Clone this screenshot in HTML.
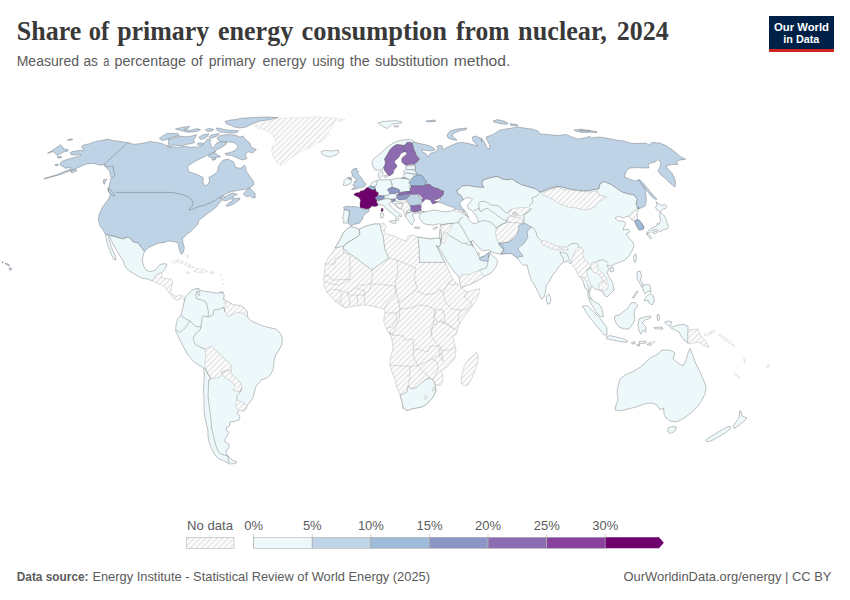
<!DOCTYPE html>
<html lang="en">
<head>
<meta charset="utf-8">
<title>Share of primary energy consumption from nuclear, 2024</title>
<style>
html,body{margin:0;padding:0;background:#fff;}
body{width:850px;height:600px;overflow:hidden;position:relative;font-family:"Liberation Sans",sans-serif;}
#chart{position:absolute;left:0;top:0;width:850px;height:600px;display:block;}
.title{font-family:"Liberation Serif",serif;font-weight:bold;font-size:27px;fill:#393939;}
.sub{font-family:"Liberation Sans",sans-serif;font-size:14px;fill:#5b5b5b;}
.lg{font-family:"Liberation Sans",sans-serif;font-size:13px;fill:#5b5b5b;}
.ft{font-family:"Liberation Sans",sans-serif;font-size:13px;fill:#5b5b5b;}
.logo{font-family:"Liberation Sans",sans-serif;font-size:11px;font-weight:bold;fill:#fff;}
</style>
</head>
<body>
<svg id="chart" width="850" height="600" viewBox="0 0 850 600">
<defs>
<pattern id="hatch" patternUnits="userSpaceOnUse" width="4" height="4" patternTransform="rotate(45)">
<rect width="4" height="4" fill="#fff"/>
<line x1="2" y1="-1" x2="2" y2="5" stroke="#e3e3e3" stroke-width="1.5"/>
</pattern>
</defs>
<rect width="850" height="600" fill="#fff"/>
<!-- header -->
<g class="title">
<text x="16.8" y="39.6" textLength="64.4" lengthAdjust="spacingAndGlyphs">Share</text>
<text x="88.8" y="39.6" textLength="20.4" lengthAdjust="spacingAndGlyphs">of</text>
<text x="117.2" y="39.6" textLength="92.0" lengthAdjust="spacingAndGlyphs">primary</text>
<text x="218.0" y="39.6" textLength="75.2" lengthAdjust="spacingAndGlyphs">energy</text>
<text x="301.5" y="39.6" textLength="145.5" lengthAdjust="spacingAndGlyphs">consumption</text>
<text x="456.1" y="39.6" textLength="53.3" lengthAdjust="spacingAndGlyphs">from</text>
<text x="518.1" y="39.6" textLength="88.6" lengthAdjust="spacingAndGlyphs">nuclear,</text>
<text x="616.8" y="39.6" textLength="51.8" lengthAdjust="spacingAndGlyphs">2024</text>
</g>
<g class="sub">
<text x="16.7" y="65.6" textLength="62.4" lengthAdjust="spacingAndGlyphs">Measured</text>
<text x="83.4" y="65.6" textLength="14.4" lengthAdjust="spacingAndGlyphs">as</text>
<text x="103.3" y="65.6" textLength="6.1" lengthAdjust="spacingAndGlyphs">a</text>
<text x="114.6" y="65.6" textLength="71.3" lengthAdjust="spacingAndGlyphs">percentage</text>
<text x="191.1" y="65.6" textLength="11.6" lengthAdjust="spacingAndGlyphs">of</text>
<text x="208.8" y="65.6" textLength="46.8" lengthAdjust="spacingAndGlyphs">primary</text>
<text x="262.6" y="65.6" textLength="43.8" lengthAdjust="spacingAndGlyphs">energy</text>
<text x="312.2" y="65.6" textLength="32.4" lengthAdjust="spacingAndGlyphs">using</text>
<text x="349.8" y="65.6" textLength="19.9" lengthAdjust="spacingAndGlyphs">the</text>
<text x="374.9" y="65.6" textLength="73.4" lengthAdjust="spacingAndGlyphs">substitution</text>
<text x="453.8" y="65.6" textLength="56.6" lengthAdjust="spacingAndGlyphs">method.</text>
</g>
<!-- logo -->
<g id="logo">
<rect x="769" y="16" width="65" height="36" fill="#002147"/>
<rect x="769" y="49" width="65" height="3" fill="#ce261e"/>
<text class="logo" x="801.5" y="30.5" text-anchor="middle" textLength="55" lengthAdjust="spacingAndGlyphs">Our World</text>
<text class="logo" x="801.3" y="42.8" text-anchor="middle" textLength="36" lengthAdjust="spacingAndGlyphs">in Data</text>
</g>
<!-- MAP -->
<g id="map" stroke="#454545" stroke-width="0.4" stroke-linejoin="round" stroke-opacity="0.8">
<path fill="#bfd3e6" d="M128.4 142.7L123.6 141.9L118.4 141.2L113.1 140.6L109.9 139.7L107.8 139.3L104.6 139.8L100.4 140.6L96.1 141.4L92.4 142.5L89.2 143.8L85.5 144.6L82.4 145.6L81.5 146.7L82.4 148L83.2 149.6L82.9 150.9L80.8 150.3L77.1 150.8L72.8 151.5L70.5 152.4L70.2 153.8L71.8 154.9L76 154.9L80 154.1L81.1 154.8L79.2 155.9L74.9 157.3L70.7 158.4L66.5 159.6L62.8 160.9L60.6 162.6L59.9 164.4L61.2 166L63.8 166.8L64.9 168.3L67.7 167.9L70.7 167.6L71.2 168.6L68.6 170L64.4 171.5L58 174.3L50.6 176.6L44.2 178.5L44.4 179.1L50.6 177.3L58 175.3L65.4 172.6L71.8 170.2L76 168.3L80.8 166.5L82.4 165.5L86.6 164.1L91.9 163.4L95.1 163.7L97.7 164.7L101.4 165.2L104.1 164.4L105.6 167.1L107.8 169L109.9 171.8L110.4 175.5L111.2 177.9L110.4 180.8L109.4 185.1L107.8 189.3L108.4 191.6L110.4 194.4L109 198L107.6 200L107.6 200L102 208L99 215L98.4 220L100 226L103 230L105.6 234.4L116 237L123 239L128 237L131 239L133 242L138 243L141 247L144.4 251.6L148 248L154 245L159 243L165 242.4L168 241L174 241.6L178 243L179 248L180.4 253L181.6 254.4L183.2 252.4L184.4 248L183 243L182.4 239L186 235L190 232L194 228L198 224L199 220L202 218L206.7 214.2L211.7 210.8L215.8 207.5L219.2 203L222.5 200L225.3 200.8L228.3 200L230.3 198.7L233.3 200L228.3 203.3L225.8 205.8L228.3 206.3L234.2 203.7L240 199.2L239.7 198L235.8 198.7L232.5 197.5L235 195L237.5 194.7L233.3 193L228.3 194.7L224.2 197.5L220 199.2L223.3 195.3L228.3 192.7L233.3 191.3L240 190L245.8 189.2L250 187.5L253.7 185L253.3 180.8L250 176.7L246.7 171.7L244.7 165L240.8 168.3L235.8 167.5L233.3 161.7L228.3 159.2L223.3 160L220.8 162.5L218.3 166.7L217.5 171.7L213.3 175L208.7 177.5L209.7 180L208.3 184.2L205 185.8L203 182.5L203.3 177.5L198.3 175L193.3 173.3L188.7 171.7L187.5 166.7L191.7 163.3L198.3 159.7L205 156.3L210 154.2L215.8 151.7L214.1 151.1L220.6 147.9L225.3 145L226.7 142.6L223.5 141.2L220 142.1L217.1 142.6L214.9 145.6L214.1 147.4L212.4 147.9L211.2 145.6L210 142.6L210.6 139.7L207.6 138.9L205.3 141.5L203.5 144.4L200.6 146.2L198.2 147.4L195.3 146.8L191.2 147.4L185.3 146.2L181.8 146.8L178.2 147.9L173.5 146.8L168.8 147.4L167.6 146.2L164.1 144.4L160.6 143.2L156.5 142.6L153.5 142.1L150 141.5L144 143L134 144.4L128 142.6Z"/>
<path fill="#bfd3e6" d="M47.4 153.5L52.7 150.1L60.6 144.8L62.8 146.9L63.5 149.1L67.7 149.3L68.1 151L63.8 152L60.1 154.1L58 155.4L55.9 154.1L53.2 151.7L50.6 152.4Z"/>
<path fill="#bfd3e6" d="M67.3 140.1L70.7 138.8L72.8 139.3L70.2 140.6Z"/>
<path fill="#bfd3e6" d="M56.9 156.7L61.2 156.5L61.7 157.7L58.5 158.2Z"/>
<path fill="#bfd3e6" d="M55.1 164.5L58 164.1L58.2 165.4L55.7 165.8Z"/>
<path fill="#bfd3e6" d="M70.2 170.8L76 169.4L76.8 170.8L71.8 172.9Z"/>
<path fill="#bfd3e6" d="M103.5 179.8L106.7 179.2L105.1 181.9L104.4 184.5L103.3 182.9Z"/>
<path fill="#bfd3e6" d="M108 188.4L110.4 189.6L113.6 193.6L114.4 196L112 195.2L109 191.6Z"/>
<path fill="#bfd3e6" d="M167.6 146.2L168.8 142.6L168.2 139.7L173.5 137.9L180.6 136.2L186.5 136.8L190.6 136.2L196.5 134.6L195.3 137.4L193.5 139.7L194.7 142.6L190 143.8L185.3 144.4L182.9 145.6L178.2 145.9L173.5 145L170 146.8Z"/>
<path fill="#bfd3e6" d="M159.4 138.2L167.1 133.2L177.6 133.5L179.4 135.6L173.5 136.8L166.5 139.7L161.8 140.5Z"/>
<path fill="#bfd3e6" d="M198.8 137.4L202.4 135L208.8 133.8L207.6 136.2L204.7 138.5L200.6 139.4Z"/>
<path fill="#bfd3e6" d="M208.8 137.4L211.2 135L219.4 133.5L217.6 135.8L213.5 137.4L210.6 138.5Z"/>
<path fill="#bfd3e6" d="M197.1 143.8L200 142.6L203.5 143.6L201.8 145.2L198.2 145.6Z"/>
<path fill="#bfd3e6" d="M175.3 129.1L181.2 127.4L189.4 126.4L188.8 127.9L184.1 129.7L190.6 130.3L197.1 128.5L200.6 129.7L196.5 131.5L188.8 132.3L184.1 131.5L180.6 130.3Z"/>
<path fill="#bfd3e6" d="M205.3 129.7L208.8 128.5L213.5 129.1L212.4 130.9L207.6 131.5Z"/>
<path fill="#bfd3e6" d="M216.5 127.9L220.6 128.5L225.3 129.7L232.4 130.3L238.2 130.6L237.6 132.3L232.4 133L225.3 132.6L220.6 132.1L217.1 130.3Z"/>
<path fill="#bfd3e6" d="M208.2 156.2L213.5 152.3L217.6 155L220.6 156.8L215.9 157.4L211.2 157.9Z"/>
<path fill="#bfd3e6" d="M211.8 159.1L215.9 158.2L215.3 159.7L212.4 160.3Z"/>
<path fill="#bfd3e6" d="M217 138L220 135.6L228 134.4L235 135L240 137L243 136L245 139L250 143L251 147L256.4 149.6L252.4 153L248 151.6L245 155L247 158.4L243 160L237 158L232 155.6L226 155L225 153.6L230 152.4L236 150L238 146.4L235 143L230 142L224 142L219 141Z"/>
<path fill="#bfd3e6" d="M225 121.6L230 120L236 119.6L240 118.4L252 117.6L266 117L278 117.6L268 120L260 121L255 123L250 125L246 127L240 128L234 127L230 125L226 123.6Z"/>
<path fill="#bfd3e6" d="M243.3 194.2L246.7 190L250 188L252.5 190.8L255 193.3L255.3 197.5L252.5 198L250 195.8L246.7 196.7Z"/>
<path fill="url(#hatch)" stroke="#d2d2d2" stroke-opacity="1" d="M255 125.6L260 124L268 121.6L278 118.4L288 118L300 117.6L312 117L324 117L332 118L345 119.4L340 121L334 121.6L333 125L331 129L328 132L330 135L325 139L320 142.4L316 143L311 147L304 150L298 153L292 157L288 160L284 164.4L281 165L277 162.4L274.4 159L272.4 154L271.6 149L273 145L276 142L274 139L273 135L269 132L264 129.6L258 128.4L255.6 127Z"/>
<path fill="#edf8fb" d="M321 151.6L325 150.4L332 151L338 150L339 152.4L336 155L330 157L325 156L322 154Z"/>
<path fill="#edf8fb" d="M105.6 234.4L116 237L123 239L128 237L131 239L133 242L138 243L141 247L144.4 251.6L143 256L142.4 261L143.6 266L146 270L150 271.6L155 270.4L158 267L160 264.4L165 263.6L167 264.4L165.6 268L163 271.6L161 273.6L158 274.4L156 276.4L154 279L152.4 281L148 279L142.4 278.4L137 275.6L131 272L127 269L124.4 265L123 260L120 256L117 251L114 246L111.6 241L110 237L108.4 236.4L109.6 241L111 246L113 251L115.6 257L116 260L114 259.6L111.6 255L109.6 250L107.6 245L106.4 240Z"/>
<path fill="url(#hatch)" stroke="#a8a8a8" stroke-opacity="1" d="M152.4 280.3L154.7 277.9L155.3 275.6L157.6 273.8L160.6 272.6L161.8 275L161.2 277.4L165.3 278.5L168.8 278.5L171.8 279.7L172.7 282.1L171.8 285.6L171.2 289.1L170.4 290.9L171.8 293.8L174.1 295.6L177.1 296.4L179.4 295L181.8 295.4L184.1 296.8L185.3 297.6L184.7 300.6L182.9 298.8L180.6 297.9L178.8 299.7L176.5 300.3L172.9 297.9L170.8 294.4L168.2 292.1L166.5 289.1L163.5 286.2L160 284.4L155.9 282.6Z"/>
<path fill="url(#hatch)" stroke="#d2d2d2" stroke-opacity="1" d="M171.2 262.6L174.1 260.3L178.8 259.7L183.5 261.5L188.2 263.8L192.4 266.2L194.7 267.7L191.8 267.9L188.2 266.8L185.3 265L181.2 263.2L176.5 262.1L172.9 263.2Z"/>
<path fill="url(#hatch)" stroke="#d2d2d2" stroke-opacity="1" d="M193.5 271.5L196.5 268.5L201.2 268.2L205.3 269.7L207.6 271.5L204.7 272.6L201.2 272.6L197.6 272.6Z"/>
<path fill="url(#hatch)" stroke="#d2d2d2" stroke-opacity="1" d="M185.3 272.1L188.2 271.5L190 272.9L187.1 273.6Z"/>
<path fill="url(#hatch)" stroke="#d2d2d2" stroke-opacity="1" d="M209.6 272.1L213.5 271.7L213.9 273.2L210.4 273.6Z"/>
<path fill="#edf8fb" d="M219.8 292.4L222.9 291.7L223.3 293.6L220.6 294.1Z"/>
<path fill="url(#hatch)" stroke="#d2d2d2" stroke-opacity="1" d="M186.8 255L188.2 255.2L188.5 257.6L187.3 257.8Z"/>
<path fill="url(#hatch)" stroke="#d2d2d2" stroke-opacity="1" d="M220.2 274.5L221.2 274.5L221.2 275.5L220.2 275.5Z"/>
<path fill="url(#hatch)" stroke="#d2d2d2" stroke-opacity="1" d="M222 279.2L222.9 279.2L222.9 280.2L222 280.2Z"/>
<path fill="url(#hatch)" stroke="#d2d2d2" stroke-opacity="1" d="M223.1 283.4L224 283.4L224 284.3L223.1 284.3Z"/>
<path fill="#edf8fb" d="M185 298.4L188 294L192 290L198 288L200 290L203 291L210 292L216 293L222 292.4L224.4 295L223.6 299L228 302L234 305L240 305.6L244 308L247 311L247.6 317L251 321L256 323L262 325.6L269 327.6L276 329L280 333L282.4 338L282 344L279 350L275.6 355L274 361L273.6 368L271 374L267 378L261 380L260 382L256 386L254.4 392L253 398L250 402L247 405.6L246 409L243 411L239 410.4L237 413L240 416L239 420L234 421.6L230 422L229.6 426L226 428L227 431L229 432.4L227 436L225 439L225 442L229 444L229 448L226 451L227 455L228 456L232 460L237 462L235 463.6L230 464L224 461L219 459L215 455L211.6 449L209 442L208 436L208 431L206.4 424L205 418L204 410L204 400L203.6 390L204 380L204.4 376L203.6 368L201 366.4L194 362L188 355L183 346L179 338L175.6 331L176 325L177.6 319L181 315L182.4 310L183.6 304Z"/>
<path fill="url(#hatch)" stroke="#a8a8a8" stroke-opacity="1" d="M223.6 299L228 302L234 305L240 305.6L244 308L247 311L247.6 317L243 313L237 312.4L232 315L228 316.4L225 312L224 308L226 305L224.4 301.6Z"/>
<path fill="url(#hatch)" stroke="#a8a8a8" stroke-opacity="1" d="M205 349L212 346L217 352L222 355.6L225 360L229 362L231.6 366L231 370L226 371L222 372L220 377L214 378L211 379L208 374L205 368L205 362L206 356Z"/>
<path fill="url(#hatch)" stroke="#a8a8a8" stroke-opacity="1" d="M222 372L226 371L231 370L232 375L236 378L240 382L242 387L241 391L237 391.6L233 390L235 386L232 382L227 379L223 376Z"/>
<path fill="url(#hatch)" stroke="#a8a8a8" stroke-opacity="1" d="M237 400L242 402L247 405.6L246 409L243 411L239 410.4L236 408L235.6 403Z"/>
<path fill="#bfd3e6" d="M414.5 142L418 143L422 144L427 145L431 146.5L434 148L435 149.8L433 150.8L429 150.8L425 150.2L421 150L423 152.2L425.5 153.2L426.5 155.5L428.5 156.2L429.2 154.5L431.2 153L434 152.5L436.5 151L438 148.5L437 146.2L439.5 145.5L442.5 146L442 148.5L444 149L447 147.5L450 146L457 143L463 142.4L469 143.6L474 145L478 146L473 141L472.4 137L476 136L480 138L482 142L481 137.6L485 143L487 148L490 149L489.6 145L487 140L486 137L492 135L497 132L500 130L506 129L512 128L518 127L524 128L532 129L538 131L540 134L548 134.4L558 135.6L566 134.4L572 137L578 139L584 138L590 136.4L591 138L598 137L606 138L616 140L624 141L630 143L638 143.6L646 143L649 145L652 142.4L660 143L666 145.6L672 149.6L677 153.6L680 156.4L685.6 159.2L680 160L676 162L678 164.4L672 164.4L666 166L668 169L672 173L674 177L675.6 182L675 187L671 184L666 179L661 175L658 171L660 167L661 163L658 159.6L655 162L651 163L648 165L649 168L644 168L638 167.6L630 168L626.4 171L624.4 177L629 179L635 181L639 179.6L642 184L645 189L646 195L646.4 201L645 206L641 208L638 209L636 204L637 199L634 195L628 194L622 192L616 188L610 184L604 181.6L600 184L599 189L592 190L586 191L580 191.6L582 191L574 190L566 188L558 186.4L548 189L540 192.4L536 189L529 187L522 185L516 182L512 179L508 180L502 179L497 176.4L490 178L483 180L482 184L484 187.6L476 187L468 185.6L462 186L458 190L457 190L457.5 193.5L460.5 195L462.5 198L463.5 199.8L462.1 200.3L459.7 203.5L461.5 207.1L463.8 210L465 211L463 212L460 211.5L457 211.2L455 209.5L454.5 207.5L452 207L449 206L446 205L443 203.5L440 202.5L437.5 202L435.5 201.2L437.5 201.8L440.5 200L440 198L442 196L443.5 194L443.5 191L440 190L438 188.5L435 188L432 186.5L430 184.5L426.5 184.2L424.8 185.2L424.6 183.5L426.5 182L424 179L422.5 176L419 175L416 174.5L416 172.5L414.5 170L415.5 168L415 165L413 164.6L415 163.5L417.5 161.5L419.5 159L418 157.5L416 155L415 152L413.5 149L413 146L412 143Z"/>
<path fill="#bfd3e6" d="M447 135L450 131L457 129L467 128L466 129.6L459 131L454 133L452 136L457 140L453 140L448 138Z"/>
<path fill="#bfd3e6" d="M493 121L497 119.6L504 121L508 123L506 124.4L500 123.6L495 122.4Z"/>
<path fill="#bfd3e6" d="M510 123.6L517 124.4L518 126L511 125.6Z"/>
<path fill="#bfd3e6" d="M426 121L435 120L435.6 121.4L428 122Z"/>
<path fill="#bfd3e6" d="M574 130L580 129.2L590 130.4L590 132L582 132L576 131.2Z"/>
<path fill="#bfd3e6" d="M580 130L588 131L587.6 132.4L580 132Z"/>
<path fill="#bfd3e6" d="M589 130.4L597 131.6L596.4 132.8L589.6 132Z"/>
<path fill="#bfd3e6" d="M639.6 179.6L644 184L649 190L653 195L657 199L655.6 200L651 196L647 191L643 186L640 182Z"/>
<path fill="#bfd3e6" d="M401.5 177.5L404 177.5L406.5 178L405 179.5L402 179Z"/>
<path fill="#edf8fb" d="M374.5 169.5L372.5 165L372 161.5L374 158.5L378 155.5L382 152L386 148L390 145L394 142.5L399 140.8L404 139.8L409 139.5L413 140.5L414.5 142L412 143L409.5 142.2L407 142.5L405 145L403.5 145.5L401 145L397 144.5L394 146L390.5 149L388.5 152.5L386.5 156L384.5 159L385.5 162L385 165L383.5 167.5L382.5 169.5L380 170L377 170.2Z"/>
<path fill="#8c6bb1" d="M401 145L403.5 145.5L404.5 148L403.5 150.5L404 152L401.5 153L400 155L399 157L397 159L395 160.5L394.5 162.5L396 164L397 166L396 168L394 169.5L393.5 172.5L392 174.5L390 175.5L388.5 176.2L387.5 174.5L386 172.5L384.5 170.5L383.5 167.5L385 165L385.5 162L384.5 159L386.5 156L388.5 152.5L390.5 149L394 146L397 144.5Z"/>
<path fill="#8c6bb1" d="M405 145L407 142.5L409.5 142.2L412 143L413 146L413.5 149L415 152L416 155L418 157.5L419.5 159L417.5 161.5L415 163.5L412 164.2L409 164.8L406 165.5L404 164L402 162.5L401.5 160L402.5 157.5L405 155.5L406.5 154L406.8 152.5L405 152L404 152L403.5 150.5L404.5 148L403.5 145.5Z"/>
<path fill="#edf8fb" d="M405.5 167L408 166L412 165.5L415 165L415.5 168L414.5 170L411 169.5L408 170L406 169Z"/>
<path fill="#edf8fb" d="M403.5 171.5L406 169.5L408 170L411 169.5L414.5 170L416 172.5L416 174.5L414 174L410 173.5L407 173L404.5 173.5Z"/>
<path fill="#edf8fb" d="M403.5 174.5L404.5 173.5L407 173L410 173.5L414 174L413.5 176.5L411.5 179L409 179.5L406.5 178L404 177.5Z"/>
<path fill="#edf8fb" d="M378.5 177.1L378.2 173.8L380 171.8L382.4 171.2L383.2 173.5L382.4 175.9L380.9 177.6L379.7 178.2Z"/>
<path fill="#edf8fb" d="M383.8 175.9L386.5 175L387.1 176.8L384.7 177.4Z"/>
<path fill="#9ebcda" d="M409 183L411 180L414.5 176L417 175L421.5 175.5L423.5 177.5L425.5 180L426.5 182L425 183.5L425 185.5L421 186L416 185.8L411 186L409.5 184.5Z"/>
<path fill="#8c6bb1" d="M409 191.5L410.5 188.5L411 186L416 185.8L421 186L425 185.5L426.5 184.2L430 184.5L432 186.5L435 188L438 188.5L440 190L443.5 191L443.5 194L442 196L440 197.5L438.5 199L436 199.5L434 200L435.5 201.5L437.5 202L435 203.5L432.5 204L431.2 202L430.5 200L428 199.5L425.5 199L424 201L422.5 202L421.5 200L422.5 198.5L421 196.5L419.5 195L417.5 194L414.5 194.5L411 194.5L409 194L407 193.5L406 192.2Z"/>
<path fill="url(#hatch)" stroke="#a8a8a8" stroke-opacity="1" d="M417.8 194.5L419.5 195L421 196.5L422.5 198.5L421.5 199.8L420 198L419 196.2Z"/>
<path fill="#bfd3e6" d="M406 199L408 197L410 195L411 194.5L414.5 194.5L417.5 194L419 196.2L420 198L421.5 199.8L422.5 202L421.5 204L420 205L417 205.2L413.5 205.8L410.5 205.5L408.5 203.5L406.5 201Z"/>
<path fill="#8c6bb1" d="M410 206.5L410.5 205.5L413.5 205.8L417 205.2L420 205L421.5 205.8L421 208.5L421.5 210.5L419 210.8L416.5 211.8L413.5 212L411 210.5L410.5 208.5Z"/>
<path fill="#edf8fb" d="M390 180L394 179L398 178L402 178.5L408 179L409.5 181L409 183L410.5 185L409 187L410 189.5L410 191.5L406 191.5L402 192.2L399 193L400 191L399 189.5L395 188L392 187.5L392 186L391.5 182.5Z"/>
<path fill="#edf8fb" d="M376.5 181L379 179.5L382 180L385.5 179.5L390 180L391.5 182.5L392 186L392 187.5L390 188L387.5 189.5L389 191.5L390 193.5L387.5 195.5L384 196L380 195.5L377.5 196L378.5 193L376 191.5L375 189.5L374.5 187L375 186L376.5 184Z"/>
<path fill="#edf8fb" d="M370.3 185.9L371.8 182.9L374.1 181.2L377.1 180.6L376.8 183.5L375.9 185.9L372.9 186.5Z"/>
<path fill="#9ebcda" d="M367.6 187.4L370 186.2L372.9 186.5L375.3 187.4L375.3 189.1L373.2 190L371.2 189.4L369.4 188.2Z"/>
<path fill="#6e016b" d="M354 194L356.5 192.8L359.5 192.5L360.5 191L363.5 190.5L367 187.5L367.6 187.4L369.4 188.2L371.2 189.4L373.2 190L375.3 189.1L376 191.5L378.5 193L377.5 196L375.5 197.5L375.5 199L377 200L376.5 202L378 204L377.5 206L374.5 206.5L372 206L369 208.8L366 209L363 208.2L360 207.5L360 204L360.5 200L359 197.5L356 196L354 195Z"/>
<path fill="#6e016b" d="M381.3 208.8L382.7 208.1L383.1 210.2L382 211.9L381.1 210.9Z"/>
<path fill="#edf8fb" d="M380.2 213.2L383.1 213L383.6 215.5L382.7 217.9L380.9 218.3L380.4 216.2Z"/>
<path fill="#bfd3e6" d="M343.5 207.4L346.4 206.3L350.6 206.6L355.2 206.6L359.4 207.7L363.3 208.8L366.1 209.1L369.3 209.5L368.9 211.6L366.5 213L364 215.1L362.6 217.6L362.9 219L361.2 220.8L359.8 222.9L356.9 223.9L353.8 224.3L351.3 226.1L349.5 224.6L347.8 222.9L348.1 219.7L348.8 216.2L349.2 213.4L349.5 210.9L346.4 210.2L344.2 209.5Z"/>
<path fill="#edf8fb" d="M344.2 209.5L346.4 210.2L349.5 210.9L349.2 213.4L348.8 216.2L348.1 219.7L347.8 222.9L344.9 223.2L343.5 222.9L343.9 219.4L342.5 218.3L343.5 214.8L343.9 211.9Z"/>
<path fill="#bfd3e6" d="M351.2 172.4L352.6 169.4L354.7 168.5L357.1 168.5L355.9 170.3L358.8 171.2L357.6 173.5L359.4 175.6L361.8 178.2L363.2 181.2L365.9 183.5L365.6 185.3L364.1 186.8L360.6 187.6L357.1 188.5L353.5 189.4L351.5 189.4L354.1 187.6L355.6 186.5L352.6 185.3L354.4 183.5L354.1 181.5L356.8 180.6L356.2 178.8L354.1 177.4L352.4 176.2L352.1 174.1Z"/>
<path fill="#bfd3e6" d="M347.9 177.6L350.3 177.1L351.8 178.2L351.2 179.4L348.8 179.4Z"/>
<path fill="#edf8fb" d="M343.2 185.3L344.1 182.6L343.8 180.6L345.9 178.5L347.9 177.6L348.8 179.4L351.2 179.4L351.5 181.5L350.6 183.5L348.2 184.7L345.6 185.6Z"/>
<path fill="#8c96c6" d="M375.5 197.5L377.5 196L380 195.6L384 196L384.5 198L383 199.5L380 200L378 200.5L376 199.5Z"/>
<path fill="#edf8fb" d="M384 196L387.5 195.5L390 193.8L394 193.5L397 194.5L397.5 196.5L396 198.5L393 199.3L389.5 199.2L387 198.5L384.5 198Z"/>
<path fill="#8c96c6" d="M387.5 189.5L390 188L392 187.5L395 188L399 189.5L400 191L399 193L398 192.5L395 193.5L392 193.5L390 193.6L389 191.5Z"/>
<path fill="#8c6bb1" d="M397.5 194.5L399 193L402 192.2L406 191.5L410 191.5L410.5 193L408 194L404 194.5L401 195.5Z"/>
<path fill="#8c96c6" d="M396.5 196.5L397.5 194.8L401 195.5L404 194.5L408 194L409.5 195L408 197.5L405 199.5L402 200L399 200L397 198.5Z"/>
<path fill="#8c96c6" d="M391 199.5L393 199.3L395.5 199L395 201L392 201.5Z"/>
<path fill="#edf8fb" d="M377.5 204L378 202L380 200L383 199.5L387 198.5L389.5 199.2L391 199.5L392 201.5L390 202.5L389 204L391 206.5L394 209.5L397 212L400 214L402 215.5L401 217L399 215.5L398 217L399 219.5L397.5 221L396 219L395.5 216.5L393 214L390 212L387 209.5L385 207L383 205L380 205Z"/>
<path fill="#edf8fb" d="M389.4 221.1L392.2 220.8L396.1 220.1L395.8 222.2L395.1 223.9L392.6 222.9L390.1 222.2Z"/>
<path fill="#edf8fb" d="M391.7 201.9L396.3 200.8L399.1 201.9L402.6 202.6L402.6 204L399.8 203.6L397.7 203.3L395.6 203.6L396.3 205.4L398.4 207.2L401.2 208.9L400.2 209.3L397 207.2L394.5 205.1L392.8 203.3Z"/>
<path fill="url(#hatch)" stroke="#a8a8a8" stroke-opacity="1" d="M395.6 203.6L397.7 203.3L399.8 203.6L402.6 204L403 206.1L401.9 208.2L401.2 208.9L398.4 207.2L396.3 205.4Z"/>
<path fill="url(#hatch)" stroke="#a8a8a8" stroke-opacity="1" d="M402.6 202.6L405.5 201.2L407.6 202.6L409.4 205.1L410.4 206.8L410.1 208.9L408.3 210L406.5 211.1L405.1 212.5L403.7 211.8L402.6 210.4L401.9 208.2L403 206.1L402.6 204Z"/>
<path fill="#edf8fb" d="M406.5 211.1L408.3 210L410.4 210.4L411.1 211.8L409.4 212.8L407.2 213Z"/>
<path fill="url(#hatch)" stroke="#a8a8a8" stroke-opacity="1" d="M403.7 211.8L405.1 212.5L406.5 213.2L406.2 215.3L405.5 216.7L404.4 215.6L403.9 213.9Z"/>
<path fill="#edf8fb" d="M405.5 216.7L406.2 215.3L406.5 213.2L407.2 213L409.4 212.8L411.1 211.8L413.2 212.5L416.1 212.1L418.2 211.8L418.5 212.8L416.8 213.2L414.6 213.5L413.2 214.6L412.2 215.3L413.2 216.7L413.9 218.5L414.6 220.2L413.6 221.3L412.9 222.7L412.2 224.8L411.1 224.5L410.1 223.1L409 221.3L407.6 219.9L406.5 218.1Z"/>
<path fill="#edf8fb" d="M414.3 227.2L416.8 226.9L419.6 227.4L419.7 228.4L416.8 228.6L414.6 228.1Z"/>
<path fill="#edf8fb" d="M433 228.4L435.1 227.3L437.6 226.6L436.9 228L435.5 229.1L433.7 229.3Z"/>
<path fill="#edf8fb" d="M418.5 211.8L420.3 211.1L421.7 212.1L420.3 213.2L418.7 213Z"/>
<path fill="#edf8fb" d="M422.5 211.5L426 212L430 210.8L434 210L438 210.5L442 211.5L446 211.8L450 211.2L453 210.2L455 209L458 209.8L461 210.5L463.5 211.8L465 211L466.8 212.9L467.9 216.5L469.1 220L472.1 222.9L475.6 223.8L478.5 221.8L477.4 218.8L475.6 215.3L473.8 212.9L472.1 210.6L468.5 208.8L467.4 205.3L469.7 202.4L472.4 200L470.3 197.6L466.2 197.9L463.5 199.8L462.5 198L460.5 195L457.5 193.5L457 190L458 190L462 186L468 185.6L476 187L484 187.6L482 184L483 180L490 178L497 176.4L502 179L508 180L512 179L516 182L522 185L529 187L536 189L540 192.4L548 189L558 186.4L566 188L574 190L582 191L580 191.6L586 191L592 190L599 189L600 184L604 181.6L610 184L616 188L622 192L628 194L634 195L637 199L636 204L638 209L639 207L637.8 208.5L638 211L636.5 213.5L637.5 216L637 219.5L639.5 220.5L641.5 223L643.5 226L644 228.5L641.5 229.5L639 230L637.5 227.5L636 224.5L634.5 221L632 220L630.5 218L628.5 216L623 218L619 216L615 218L618 221L623 221L626 223L624 227L623 230L628 229L630 232L626 234L629 238L633 242L634 246L632 251L629 256L625 260L620 262L615 264L611 266L607 265L609 269L607 273L610 278L613 284L614 290L610 294L607 297L604 295L603 292L599 290L595 289L592 286L590 290L589.6 296L592 300L595 302L599 304L601.6 308L603.6 316.4L601 317L597 313L593 307L589.6 301L588 296L587.6 290L585 288L583 281L580 276L577 272L575 266L572 262L570 264L568 261L564 262L560 265L556 271L552 276L549 282L546 286L545.6 292L544 297L541.6 299.4L538 292L534 284L531.3 280.4L529.2 274L527.8 268.3L527 264.8L523.5 265.5L521.4 263.4L518.5 259.8L517.1 257.7L515 256.3L512.2 253.5L506.5 253.5L500.8 254.2L498 253.5L493.8 252.8L490.9 251.6L489.5 249.9L486.7 250.2L482.4 250.6L478.9 247.8L475.3 243.5L472.5 240L471.1 241.7L470.4 242.7L471.1 244.5L472.5 246.7L471.1 241.4L472.5 244.2L474.6 247.8L476 250.6L477.5 253.5L478.9 256.3L479.6 257.7L481.7 257L484.5 255.9L486.7 254.2L488.8 252.8L490.2 251.3L490.6 253.5L492.3 255.6L495.2 257.7L497.7 261.2L496.6 265.5L494.5 269L490.9 273.3L486.7 275.4L483.6 276.6L481.7 278.2L476.8 281.1L471.1 283.9L465.4 286L461.9 287.5L460.5 285.3L459.8 281.1L459 277.1L455.5 273.3L451.2 267.6L447 261.2L442.8 254.2L438.5 247.8L441.6 242.7L440.2 241.7L439.6 238.2L439.6 232.5L439.9 231.1L440.6 225.4L441.5 224.1L438.6 223.8L435.8 224.5L433 225.2L430.2 224.8L427.4 224.5L424.5 223.8L422.4 222.4L421 220.2L419.6 218.5L419.2 216.4L420.3 214.2L421.7 212.5L424.5 211.4Z"/>
<path fill="url(#hatch)" stroke="#a8a8a8" stroke-opacity="1" d="M453 210.2L455 209L458 209.8L461 210.5L463.5 211.8L461 212.5L458 212L455.5 211.2Z"/>
<path fill="url(#hatch)" stroke="#a8a8a8" stroke-opacity="1" d="M461 212.5L463.5 211.8L465 213.5L466 215.5L464 215L462.2 214Z"/>
<path fill="url(#hatch)" stroke="#a8a8a8" stroke-opacity="1" d="M440.6 225.4L445.6 224L452.7 223.3L451.2 228.2L447.7 232.5L443.5 233.9L441.3 230.4L439.9 231.1Z"/>
<path fill="url(#hatch)" stroke="#a8a8a8" stroke-opacity="1" d="M441.3 238.9L443.5 233.9L447.7 232.5L449.1 235.3L445.6 238.9L444.2 242.7L441.6 242.7Z"/>
<path fill="url(#hatch)" stroke="#a8a8a8" stroke-opacity="1" d="M439.6 232.5L441.1 232.2L441.3 230.4L439.9 231.1Z"/>
<path fill="url(#hatch)" stroke="#a8a8a8" stroke-opacity="1" d="M459 277.1L461.2 275.1L465.4 274.7L471.1 274L475.3 271.9L478.9 270.5L481.7 272.6L483.6 276.6L481.7 278.2L476.8 281.1L471.1 283.9L465.4 286L461.9 287.5L460.5 285.3L459.8 281.1Z"/>
<path fill="#bfd3e6" d="M479.6 257.7L481.7 257L484.5 255.9L486.7 254.2L488.8 252.5L489.5 254.2L488.4 257.7L488.1 261.2L483.8 261L479.9 259.8Z"/>
<path fill="url(#hatch)" stroke="#a8a8a8" stroke-opacity="1" d="M498.5 243.4L496.4 238.4L495.6 232.4L496.2 228.2L499.1 225.9L502 224.1L506.8 222.4L510.3 222.4L513.8 222.9L517.4 222.4L520.9 223.5L523.8 222.9L522 225.3L519.5 226L520 230L518 235L514 239L509 242.5L503.5 243Z"/>
<path fill="url(#hatch)" stroke="#a8a8a8" stroke-opacity="1" d="M508.5 213.5L511.5 209.4L516.2 208L522.1 207.6L527.9 207.6L531.5 208.8L528.5 211.8L524.4 214.1L520.9 215.9L517.4 215.3L513.8 216.5L510.3 215.3Z"/>
<path fill="#edf8fb" d="M512.6 212.9L516.2 212.4L516.8 214.4L513.8 215.1Z"/>
<path fill="url(#hatch)" stroke="#a8a8a8" stroke-opacity="1" d="M506.8 218.8L508.5 216.5L511.5 215.9L515 217.6L519.1 217.6L523.2 220L523.8 222.9L520.3 223.5L516.2 221.8L512.6 222.9L509.1 221.8Z"/>
<path fill="#bfd3e6" d="M501.1 254L504.2 249.8L499.9 246.2L498.5 243.4L503.5 242.7L508.4 242L513.4 238.4L516.9 234.9L518.3 229.9L519 225.7L521.9 224L525.4 223.5L529 225.7L531.8 227.1L528.2 229.9L527.1 233.5L528 237L526.1 240.5L523.3 244.1L520.5 246.2L518.3 248.3L519 251.2L521.9 254L522.9 256.6L519 256.8L516.9 258L514.8 256.1L511.2 253.7L505.6 253.7Z"/>
<path fill="url(#hatch)" stroke="#a8a8a8" stroke-opacity="1" d="M541.7 241.2L544.5 240.5L549.5 242.7L555.2 245.5L560.1 246.9L560.1 250L555.2 249.5L549.5 247.6L544.5 245.5L541.3 243.8Z"/>
<path fill="url(#hatch)" stroke="#a8a8a8" stroke-opacity="1" d="M561.5 246.9L567.2 246.6L567.9 249.8L562.2 250Z"/>
<path fill="url(#hatch)" stroke="#a8a8a8" stroke-opacity="1" d="M572.2 265.3L571.5 261.8L572.9 256.8L574.3 253.3L575.7 249.8L577.8 247.6L580.7 246.9L583.5 249.8L582.8 254.7L584.2 259L587.8 262.5L590.6 265.3L589.2 268.2L586.3 271L587.8 276L589.2 280.9L591.3 285.2L589.2 288L588.5 292.2L587.8 283.8L584.9 278.1L582.1 276.7L578.5 276.7L577.1 272.4L575 268.9Z"/>
<path fill="url(#hatch)" stroke="#a8a8a8" stroke-opacity="1" d="M590.6 265.3L592.7 261.8L595.5 262.5L598.4 265.3L597.7 268.9L601.9 272.4L605.5 276.7L607.6 280.9L605.5 283L603.3 280.9L600.5 276.7L597 273.1L593.4 272.4L591.3 268.9Z"/>
<path fill="url(#hatch)" stroke="#a8a8a8" stroke-opacity="1" d="M598.4 286.6L599.1 283L603.3 280.9L605.5 283L608.3 284.5L607.6 288.7L603.3 290.8L599.8 290.1Z"/>
<path fill="url(#hatch)" stroke="#a8a8a8" stroke-opacity="1" d="M541 193L549 190L559 187L562 189L570 190L580 191L590 192L597 191L599 195L607 197L603 200L598 202L595 207L590 209L584 210L576 208L568 207L560 204L554 200L548 197L543 195Z"/>
<path fill="url(#hatch)" stroke="#a8a8a8" stroke-opacity="1" d="M628.5 216L631 213.5L634 211L636.5 209.5L637.8 208.5L638 211L636.5 213.5L637.5 216L637 219.5L634.5 221L632 220L630.5 218Z"/>
<path fill="#9ebcda" d="M634.5 221L637 219.5L639.5 220.5L641.5 223L643.5 226L644 228.5L641.5 229.5L639 230L637.5 227.5L636 224.5Z"/>
<path fill="#ffffff" d="M198.2 291.5L199.4 290.9L200 293.8L198.8 295.6L197.9 293.8Z"/>
<path fill="url(#hatch)" stroke="#a8a8a8" stroke-opacity="1" d="M347 229L351 226.6L355 227.6L359 229.4L366 226L374 224L380 224L384 223L386 227L384 231L387 234L394 236L400 239L406 241L408 236L414 235L418 237L424 238L431 239L437 238L441 239L440 245.4L438 247L436 245L439 251L442 257L445 262.4L450 273L453 279L458 285L464 290L467 292L472 290.6L480 288.6L478 297L473 305L467 313L461 321L458 327L456 335L453 335L454 342L456 350L455 358L451 363L446 368L441 371L443 376L442.4 383L439 386L435 384L436 391L433 397L428 403L422 407L414 408.4L407 410.4L403 408L402 402L400 395L397 388L395 380L392 372L389.6 364L391 356L393 348L392 340L390 332L390 335L386 328L383.6 321L385 313L384 309L376 307L370 305.4L364 305L356 306L350 307L345 308L340 305L335 301L331 297L327 292L324.4 287L323.6 281L324.4 273L325 265L328 258L332 253L335 248L338 243L341 238L343 233Z"/>
<path fill="#edf8fb" d="M347 229L351 226.6L355 227.6L359 229.4L360 234L357 237L352 240L347 243L343.6 246L340 247L335 248L338 243L341 238L343 233Z"/>
<path fill="#edf8fb" d="M359 229.4L366 226L374 224L380 224L381 230L383 235L384 243L385 250L389 258L380 264L372 270L365 265L356 258L349 253L343.6 249L343.6 246L347 243L352 240L357 237L360 234Z"/>
<path fill="#edf8fb" d="M418 237L424 238L431 239L437 238L441 239L440 245.4L438 247L436 245L439 251L442 257L445 262.4L419.6 262.4L419 247Z"/>
<path fill="#edf8fb" d="M400 395L403 394L407 392L408 386L412 389L417 387L420 384L425 380L430 378L433 380L435 384L436 391L433 397L428 403L422 407L414 408.4L407 410.4L403 408L402 402Z"/>
<path fill="url(#hatch)" stroke="#a8a8a8" stroke-opacity="1" d="M423.6 397L426 395L428 397L425.6 399.6Z"/>
<path fill="url(#hatch)" stroke="#a8a8a8" stroke-opacity="1" d="M432 388L434.4 387.6L434.8 390.4L432.4 391Z"/>
<path fill="url(#hatch)" stroke="#a8a8a8" stroke-opacity="1" d="M461 380L462.4 372L465 364L469 359L474 355L476.4 352L478.4 358L477 365L474 373L471 380L468 385L464 386L461.6 384Z"/>
<path fill="#edf8fb" d="M656 202L658.5 203.5L662 205.5L664.5 204L667 206.5L665.5 208.5L663 209L661 211.5L658.5 211L656.5 209.5L655.5 207.5L657 205Z"/>
<path fill="#edf8fb" d="M660 212.5L659.5 216L660.5 219L660 222L658.5 224.5L657.5 223L656.5 226L654 227L651 228.5L648.5 230.5L646.5 233.5L650 232.5L653 230L656 229.5L658 230.5L660 232L662 230.5L664.5 229.5L667 229L668.5 227.2L667.8 224.5L666.5 222L666 219L664.5 216L662 213.5Z"/>
<path fill="#edf8fb" d="M646.5 233.5L648.5 234L650 235.5L651.5 237.5L651 239L649.5 238L648 236Z"/>
<path fill="#edf8fb" d="M652.5 232.5L656 231L657.5 232L654.5 234Z"/>
<path fill="#edf8fb" d="M634 255L636 254L636.6 259L635 262.4L633.6 260Z"/>
<path fill="#edf8fb" d="M610 268L613 267L613.6 271L610.4 272Z"/>
<path fill="#edf8fb" d="M637 272L640 271L641.6 276L640.4 280L643 284L645 288L642 287L639 282L637 278Z"/>
<path fill="#edf8fb" d="M546.4 296L549 294L551 299L550 303.6L547.6 304L546 300Z"/>
<path fill="#edf8fb" d="M582.4 306L587 305.6L592 310L598 316L603 322L607 328L607 335L604 335L600 330L595 324L590 318L586 312Z"/>
<path fill="#edf8fb" d="M606 337L610 335.6L616 337L622 338.4L628 341L627 342.4L620 341.6L613 340L607 339Z"/>
<path fill="#edf8fb" d="M615 316L619 315L623 312L628 308L631 303L635 302.4L638 306L635 309L634 314L635 320L632 325L629 329L624 329L619 327L616 323L614.4 319Z"/>
<path fill="#edf8fb" d="M639 319L644 317L651 316L650 318.4L645 320L642 323L646 327L645.6 332.4L643 330L641 334L639 331L638 325Z"/>
<path fill="#edf8fb" d="M631.6 342.4L635 341.6L635 343.6L632 344Z"/>
<path fill="#edf8fb" d="M637 344.4L639.6 344L639.6 346L637.4 346Z"/>
<path fill="#edf8fb" d="M639 341.6L646 341L646 343L639.6 343.6Z"/>
<path fill="#edf8fb" d="M647 344.4L651 342.4L650 345.6Z"/>
<path fill="url(#hatch)" stroke="#a8a8a8" stroke-opacity="1" d="M651 342.4L655 341.2L654.4 342.8L650.4 345.2Z"/>
<path fill="#edf8fb" d="M657 315L659 314.4L659.6 319L658 321L657.2 318Z"/>
<path fill="#edf8fb" d="M654 327.6L662 327L663 329L655 329Z"/>
<path fill="#edf8fb" d="M664.4 322.4L668 321L672 322L670 325L673 327L678 325L684 324.4L688 326.4L688 343L684 340L681 336L679 332L675 330L671 328L667.6 325Z"/>
<path fill="#edf8fb" d="M647 296L650 293.6L653.6 296L654.4 301L652 305L649 303L648 300L644.4 301L645 298.4Z"/>
<path fill="#edf8fb" d="M642 286L646 284.4L650 285L651 292L648 291L645 294L643 290Z"/>
<path fill="#edf8fb" d="M632.4 297.6L637 291L638 291.6L633.6 298.4Z"/>
<path fill="url(#hatch)" stroke="#a8a8a8" stroke-opacity="1" d="M688 330L698 329L700 335L705 340L709 347L704 346L699 342L694 343L688 343.6Z"/>
<path fill="url(#hatch)" stroke="#d2d2d2" stroke-opacity="1" d="M704 334L710 332L714 330L715 331.6L710 334.4L705 336Z"/>
<path fill="#edf8fb" d="M618 400L617 392L618 386L620 379L625 375L632 372L639 368L644 364L650 358L658 354L662 350L668 350L672 351L675 353L673 359L678 363L683 366L686 360L688 353L690 348.4L693 356L696 364L700 372L703 379L706 386L705 394L702 400L698 406L693 411L687 416L681 420L676 422L670 421L666 418L664 414L663.6 408L660 410L657 405L652 403L644 404L636 407L628 409L620 411L615 410L616 405Z"/>
<path fill="#edf8fb" d="M668 428L672 426.4L676.4 427L675 431L671 433.6L668 432Z"/>
<path fill="#edf8fb" d="M733 426L736 422L739 418L739.6 411L741 411L742 416L747 418L743 422L738 426L734 428.4Z"/>
<path fill="#edf8fb" d="M705.6 440L710 437L718 432L726 427.6L730 426L731 428.4L725 433L718 437L711 441L707 441.6Z"/>
<path fill="url(#hatch)" stroke="#d2d2d2" stroke-opacity="1" d="M734.4 372.4L740 377.6L739 379L733.6 373.6Z"/>
<path fill="url(#hatch)" stroke="#d2d2d2" stroke-opacity="1" d="M743.6 358L744.8 358.4L745.2 363L744 362.4Z"/>
<path fill="url(#hatch)" stroke="#d2d2d2" stroke-opacity="1" d="M766 366L769 364.4L770 366L767.2 368Z"/>
<path fill="url(#hatch)" stroke="#d2d2d2" stroke-opacity="1" d="M719 334L724 337L730 341L734 345L735 347L730 344L724 339.6L719 335.6Z"/>
<path fill="#edf8fb" d="M378 123L381.8 121.8L387.6 121.1L395.3 120.6L401.8 121.8L401.2 123.2L395.9 123.5L391.8 124.4L389.4 126.8L387.6 128.5L384.7 127.4L381.2 125.4Z"/>
<path fill="#edf8fb" d="M394.1 125.8L398.8 125.8L398.2 127L394.7 126.8Z"/>
<path fill="#bfd3e6" d="M2 261.8L3.2 262L3 262.8L2 262.6Z"/>
<path fill="#bfd3e6" d="M5.2 263.2L7.5 263.8L9.7 265.2L9.2 266L7 265L5.2 264Z"/>
<path fill="#bfd3e6" d="M9.5 267.5L11.8 268.5L11.2 269.8L9.8 270.6L9.2 269.2Z"/>
<g fill="none">
<path d="M115.6 192.4L172 192.4L180 194L187 196L192 200L193 205L189 210L191.7 209.7L198.3 206.7L205 205L210.8 202.5L215.8 200L218.3 197.5L221.7 197L223.3 195.3L225 198"/>
<path d="M128 142.6L104 164.4L107 167L109 166.4L113 166L114 172L115 175.6L112 178"/>
<path d="M198 288.4L195.6 295L197 299L202 300L206.4 302.4L207.6 308L208.4 312L208 317"/>
<path d="M208 317L213 315L214 310L220 309L223.6 307L225 312"/>
<path d="M181 315.6L186 319L190 321L185 328L180 332.4L176 330"/>
<path d="M190 321L196 326.4L201 327L202 318L203 316L208 317"/>
<path d="M201 327L200 330L196 333L193 338L195 344L200 347L205 349"/>
<path d="M205 368L208 374L211 379L208.6 380L208.4 388L208 396L209 404L210 412L211 420L211.6 428L213 434L214.4 440L216 446L218 451L221 454L226 455.6L228 456"/>
<path d="M227.6 456L229 463"/>
<path d="M242 388L240 392L237 396L237 400"/>
<path d="M478.5 203.5L480.3 201.8L483.8 201.2L487.9 202.9L491.5 205.3L496.2 205.3L499.7 206.5L502.1 209.4L504.4 211.8L507.4 212.9L509.1 211.2L511.5 209.4"/>
<path d="M478.5 203.5L479.1 208.2"/>
<path d="M473.8 210.8L476.8 209.4L479.1 208.2L480.3 211.8L484.4 209.2L487.9 208.2L490.3 210.8L493.8 212.4L496.8 215.3L500.3 217.6L503.8 220L506.8 221.2L506.8 218.8"/>
<path d="M478.5 221.8L483.2 220.6L487.9 221.2L491.5 222.9L495 225.9L496.2 228.2"/>
<path d="M496.2 228.2L499.1 225.9L502.1 224.1L506.8 222.4L506.8 221.2"/>
<path d="M531.5 208.8L528.5 211.8L524.4 214.1L523.8 220L523.8 222.9"/>
<path d="M440.6 225.4L445.6 224L452.7 223.3L458.3 222.6L460.5 218.3L463.3 217.6"/>
<path d="M458.3 222.6L460.5 225.4L464 231.1L467.5 237.5L469.7 241.7L471.1 241.7"/>
<path d="M449.1 235.3L455.5 238.9L461.9 243.1L466.1 243.8L468.2 245.2L471.1 244.5"/>
<path d="M467.5 241.7L466.1 243.8"/>
<path d="M441.1 232.5L441.6 238.2L440.6 241.7"/>
<path d="M498.7 242.4L502.2 245.2L503.7 249.5L500.8 253.8"/>
<path d="M463.5 211.8L465 213.5L466 215.5L469 217"/>
<path d="M540 192.4L537 196L532 198L533 202L529 206"/>
<path d="M531.8 227.1L533.9 228.5L536 232L536.8 235.6L538.9 238.4L541.7 241.2"/>
<path d="M567.9 246.2L572.2 243.4L576.4 243.4L579.2 245.5L577.8 247.6"/>
<path d="M560.1 251.9L563.7 252.6L567.2 254L568.6 257.5L570 261.1"/>
<path d="M560.1 251.9L560.8 254.7L563 257.5L563.7 261.8"/>
<path d="M586.3 271L589.2 268.2L591.3 268.9"/>
<path d="M589.2 297.9L592.3 299.6"/>
<path d="M595.5 262.5L599.1 260.4L603.3 259.7L607.6 262.5"/>
<path d="M478.9 270.5L486.7 267.6L488.1 261.2"/>
<path d="M488.4 257.7L489.5 254.2"/>
<path d="M477.5 253.5L478.9 252.5L479.3 255.3L478.2 256.3"/>
</g>
<g fill="none" stroke="#a8a8a8" stroke-opacity="1">
<path d="M324.4 264L335 264L335 258.6L339 257.4L343.6 253L343.6 249"/>
<path d="M343.6 253L350 254L350 279.4L332 280L329 276L324.4 275"/>
<path d="M372 270L372.4 275L371 283L365 285L359 285L356 288"/>
<path d="M389 258L397 260L398 273L395.6 281L395 286"/>
<path d="M371 284L378 284L386 285L395 286"/>
<path d="M397 260L416 268L414.4 279L417 288L414 292"/>
<path d="M417 291L426 295L436 293L440 289L443 294"/>
<path d="M453 279L448 283L445 289L443 294"/>
<path d="M458 285L455 284L452 285L448 283"/>
<path d="M467 292L464 297L472 303L467 309L460 310"/>
<path d="M443 294L446 303L452 309L460 310"/>
<path d="M460 310L458 319L460 324"/>
<path d="M444 323L458 331"/>
<path d="M436 309L443 310L445 317L444 323L437 321L434 317L436 309"/>
<path d="M397 303L404 299L414 292"/>
<path d="M400 309L410 308L420 305L428 306L435 310"/>
<path d="M384 309L389 301L395 295L395.6 286"/>
<path d="M395.6 286L397 295L399 303L400 309L397 313L385 313"/>
<path d="M397 313L396 321L392 327L387 328"/>
<path d="M400 309L399 319L396 327L392 335"/>
<path d="M324.4 281L332 284L339 285L350 279.4"/>
<path d="M327 292L332 289L339 290L342 295L340 301L335 301"/>
<path d="M340 301L342 305L345 308"/>
<path d="M350 307L349.6 299L347 293L339 290"/>
<path d="M358 306L357 295"/>
<path d="M365 305L364.4 295L370 290L371 284"/>
<path d="M347 293L356 288L365 291L364.4 295L357 295L350 295L347 293"/>
<path d="M435 310L434 317L433 324L432 331L431 335"/>
<path d="M433 324L436 324.6L437 321"/>
<path d="M389.6 365L410 366.4L418 365.6"/>
<path d="M410 366.4L409.6 378L408 386"/>
<path d="M418 365.6L424 372.4L430 378"/>
<path d="M390 332L392 335L403 336L405 340L413 339L413.6 350L413 356L418 365.6"/>
<path d="M413.6 350L418 349L428 352L430 346L439 346"/>
<path d="M418 365.6L426 362L432 359L437 362L438 370L435 376L433 380"/>
<path d="M440 346L442 354L443 361L440 358L439 350L439 346"/>
<path d="M442 350L449 350L455.6 348"/>
<path d="M431 326L431 329L432 338L439 346"/>
<path d="M440 320L448 324L454 329"/>
<path d="M432 359L439 355L442 354"/>
</g>
</g>
<!-- legend -->
<g id="legend">
<text class="lg" x="187" y="530.4" textLength="46" lengthAdjust="spacingAndGlyphs">No data</text>
<line x1="209.8" y1="534.5" x2="209.8" y2="537.5" stroke="#bbb" stroke-width="0.6"/>
<rect x="186.4" y="537.3" width="47.6" height="11" fill="url(#hatch)" stroke="#b5b5b5" stroke-width="0.6"/>
<g stroke="#a8a8a8" stroke-width="0.5">
<rect x="253.6" y="537.3" width="58.6" height="11" fill="#edf8fb"/>
<rect x="312.2" y="537.3" width="58.6" height="11" fill="#bfd3e6"/>
<rect x="370.8" y="537.3" width="58.6" height="11" fill="#9ebcda"/>
<rect x="429.4" y="537.3" width="58.6" height="11" fill="#8c96c6"/>
<rect x="488" y="537.3" width="58.6" height="11" fill="#8c6bb1"/>
<rect x="546.6" y="537.3" width="58.6" height="11" fill="#88419d"/>
</g>
<path d="M605.2 537.3H659L663.8 542.8L659 548.3H605.2Z" fill="#6e016b"/>
<g stroke="#b0b0b0" stroke-width="0.6">
<line x1="253.6" y1="534" x2="253.6" y2="548.3"/>
<line x1="312.2" y1="534" x2="312.2" y2="548.3"/>
<line x1="370.8" y1="534" x2="370.8" y2="548.3"/>
<line x1="429.4" y1="534" x2="429.4" y2="548.3"/>
<line x1="488" y1="534" x2="488" y2="548.3"/>
<line x1="546.6" y1="534" x2="546.6" y2="548.3"/>
<line x1="605.2" y1="534" x2="605.2" y2="548.3"/>
</g>
<g class="lg" text-anchor="middle">
<text x="253.7" y="530.4">0%</text>
<text x="312.3" y="530.4">5%</text>
<text x="370.9" y="530.4">10%</text>
<text x="429.5" y="530.4">15%</text>
<text x="488.1" y="530.4">20%</text>
<text x="546.7" y="530.4">25%</text>
<text x="605.3" y="530.4">30%</text>
</g>
</g>
<!-- footer -->
<text class="ft" x="16.8" y="580.7" font-weight="bold" textLength="71.7" lengthAdjust="spacingAndGlyphs">Data source:</text>
<text class="ft" x="92.4" y="580.7" textLength="337.6" lengthAdjust="spacingAndGlyphs">Energy Institute - Statistical Review of World Energy (2025)</text>
<text class="ft" x="623.4" y="580.7" textLength="208.1" lengthAdjust="spacingAndGlyphs">OurWorldinData.org/energy | CC BY</text>
</svg>
</body>
</html>
